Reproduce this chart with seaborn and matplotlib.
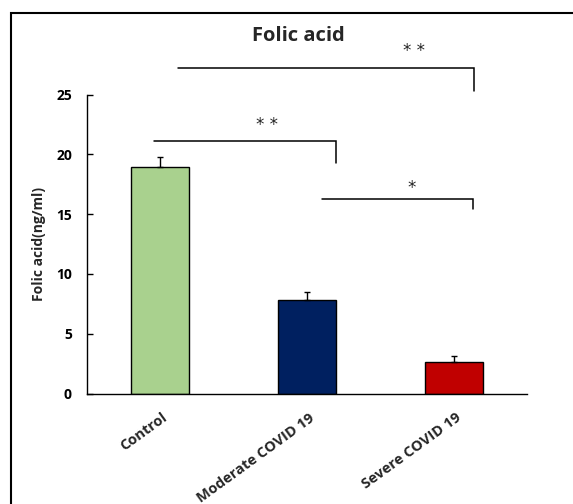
import matplotlib
matplotlib.use("Agg")
import matplotlib.pyplot as plt
import matplotlib.transforms as mtransforms
from matplotlib.patches import Rectangle
import seaborn as sns
import pandas as pd

# ---- data ----
categories = ["Control", "Moderate COVID 19", "Severe COVID 19"]
means = [18.9, 7.8, 2.6]
errors = [0.9, 0.7, 0.55]
colors = ["#A9D18E", "#002060", "#C00000"]
y_ticks = [0, 5, 10, 15, 20, 25]
title = "Folic acid"
y_label = "Folic acid(ng/ml)"
# significance brackets: (x_start, x_end, y_top, y_drop_to, label)
brackets = [
    (0.125, 2.135, 27.2, 25.3, "* *"),
    (-0.04, 1.20, 21.1, 19.3, "* *"),
    (1.10, 2.13, 16.25, 15.4, "*"),
]
star_pos = [(1.73, 28.65), (0.73, 22.45), (1.71, 17.15)]

sns.set_theme(style="white")
plt.rcParams["font.family"] = ["Open Sans", "DejaVu Sans"]

fig = plt.figure(figsize=(5.73, 5.04), dpi=100)
ax = fig.add_axes([0.1511, 0.2192, 0.7693, 0.5933])

df = pd.DataFrame({"group": categories, "value": means})
sns.barplot(data=df, x="group", y="value", hue="group", palette=colors,
            width=0.4, edgecolor="black", linewidth=1.0, ax=ax,
            legend=False, errorbar=None, saturation=1)

ax.errorbar(range(len(categories)), means, yerr=[[0] * len(errors), errors],
            fmt="none", ecolor="black", elinewidth=1.0, capsize=2.2,
            capthick=1.0, zorder=5)

ax.set_xlim(-0.5, 2.5)
ax.set_ylim(0, 25)
ax.set_yticks(y_ticks)
ax.set_yticklabels([str(t) for t in y_ticks], fontsize=10, fontweight="bold")
ax.set_xlabel("")
ax.set_ylabel(y_label, fontsize=10, fontweight="bold", labelpad=7)
ax.tick_params(axis="y", direction="in", length=4, width=1.0, pad=10.5,
               left=True, colors="black")
ax.tick_params(axis="x", length=0, pad=2)

for side in ["top", "right"]:
    ax.spines[side].set_visible(False)
for side in ["left", "bottom"]:
    ax.spines[side].set_color("black")
    ax.spines[side].set_linewidth(1.0)

ax.set_xticks(range(len(categories)))
ax.set_xticklabels(categories, rotation=36, ha="right", va="center",
                   rotation_mode="anchor", fontsize=10.5, fontweight="bold")
offset = mtransforms.ScaledTranslation(6 / 100, -20 / 100, fig.dpi_scale_trans)
for lbl in ax.get_xticklabels():
    lbl.set_transform(lbl.get_transform() + offset)

# brackets
for (x1, x2, yt, yd, lab), (sx, sy) in zip(brackets, star_pos):
    ax.plot([x1, x2, x2], [yt, yt, yd], color="black", lw=1.1,
            clip_on=False, solid_joinstyle="miter")
    ax.text(sx, sy, lab, ha="center", va="center", fontsize=12,
            family="DejaVu Sans", color="#222222", clip_on=False)

fig.text(298 / 573, 1 - 36 / 504, title, ha="center", va="center",
         fontsize=14.5, fontweight="bold")

# outer frame
fig.patches.append(Rectangle((11 / 573, -0.05), 1.2, (504 - 13) / 504 + 0.05,
                             transform=fig.transFigure, fill=False,
                             edgecolor="black", linewidth=1.5))

fig.savefig("out.png", dpi=100)
